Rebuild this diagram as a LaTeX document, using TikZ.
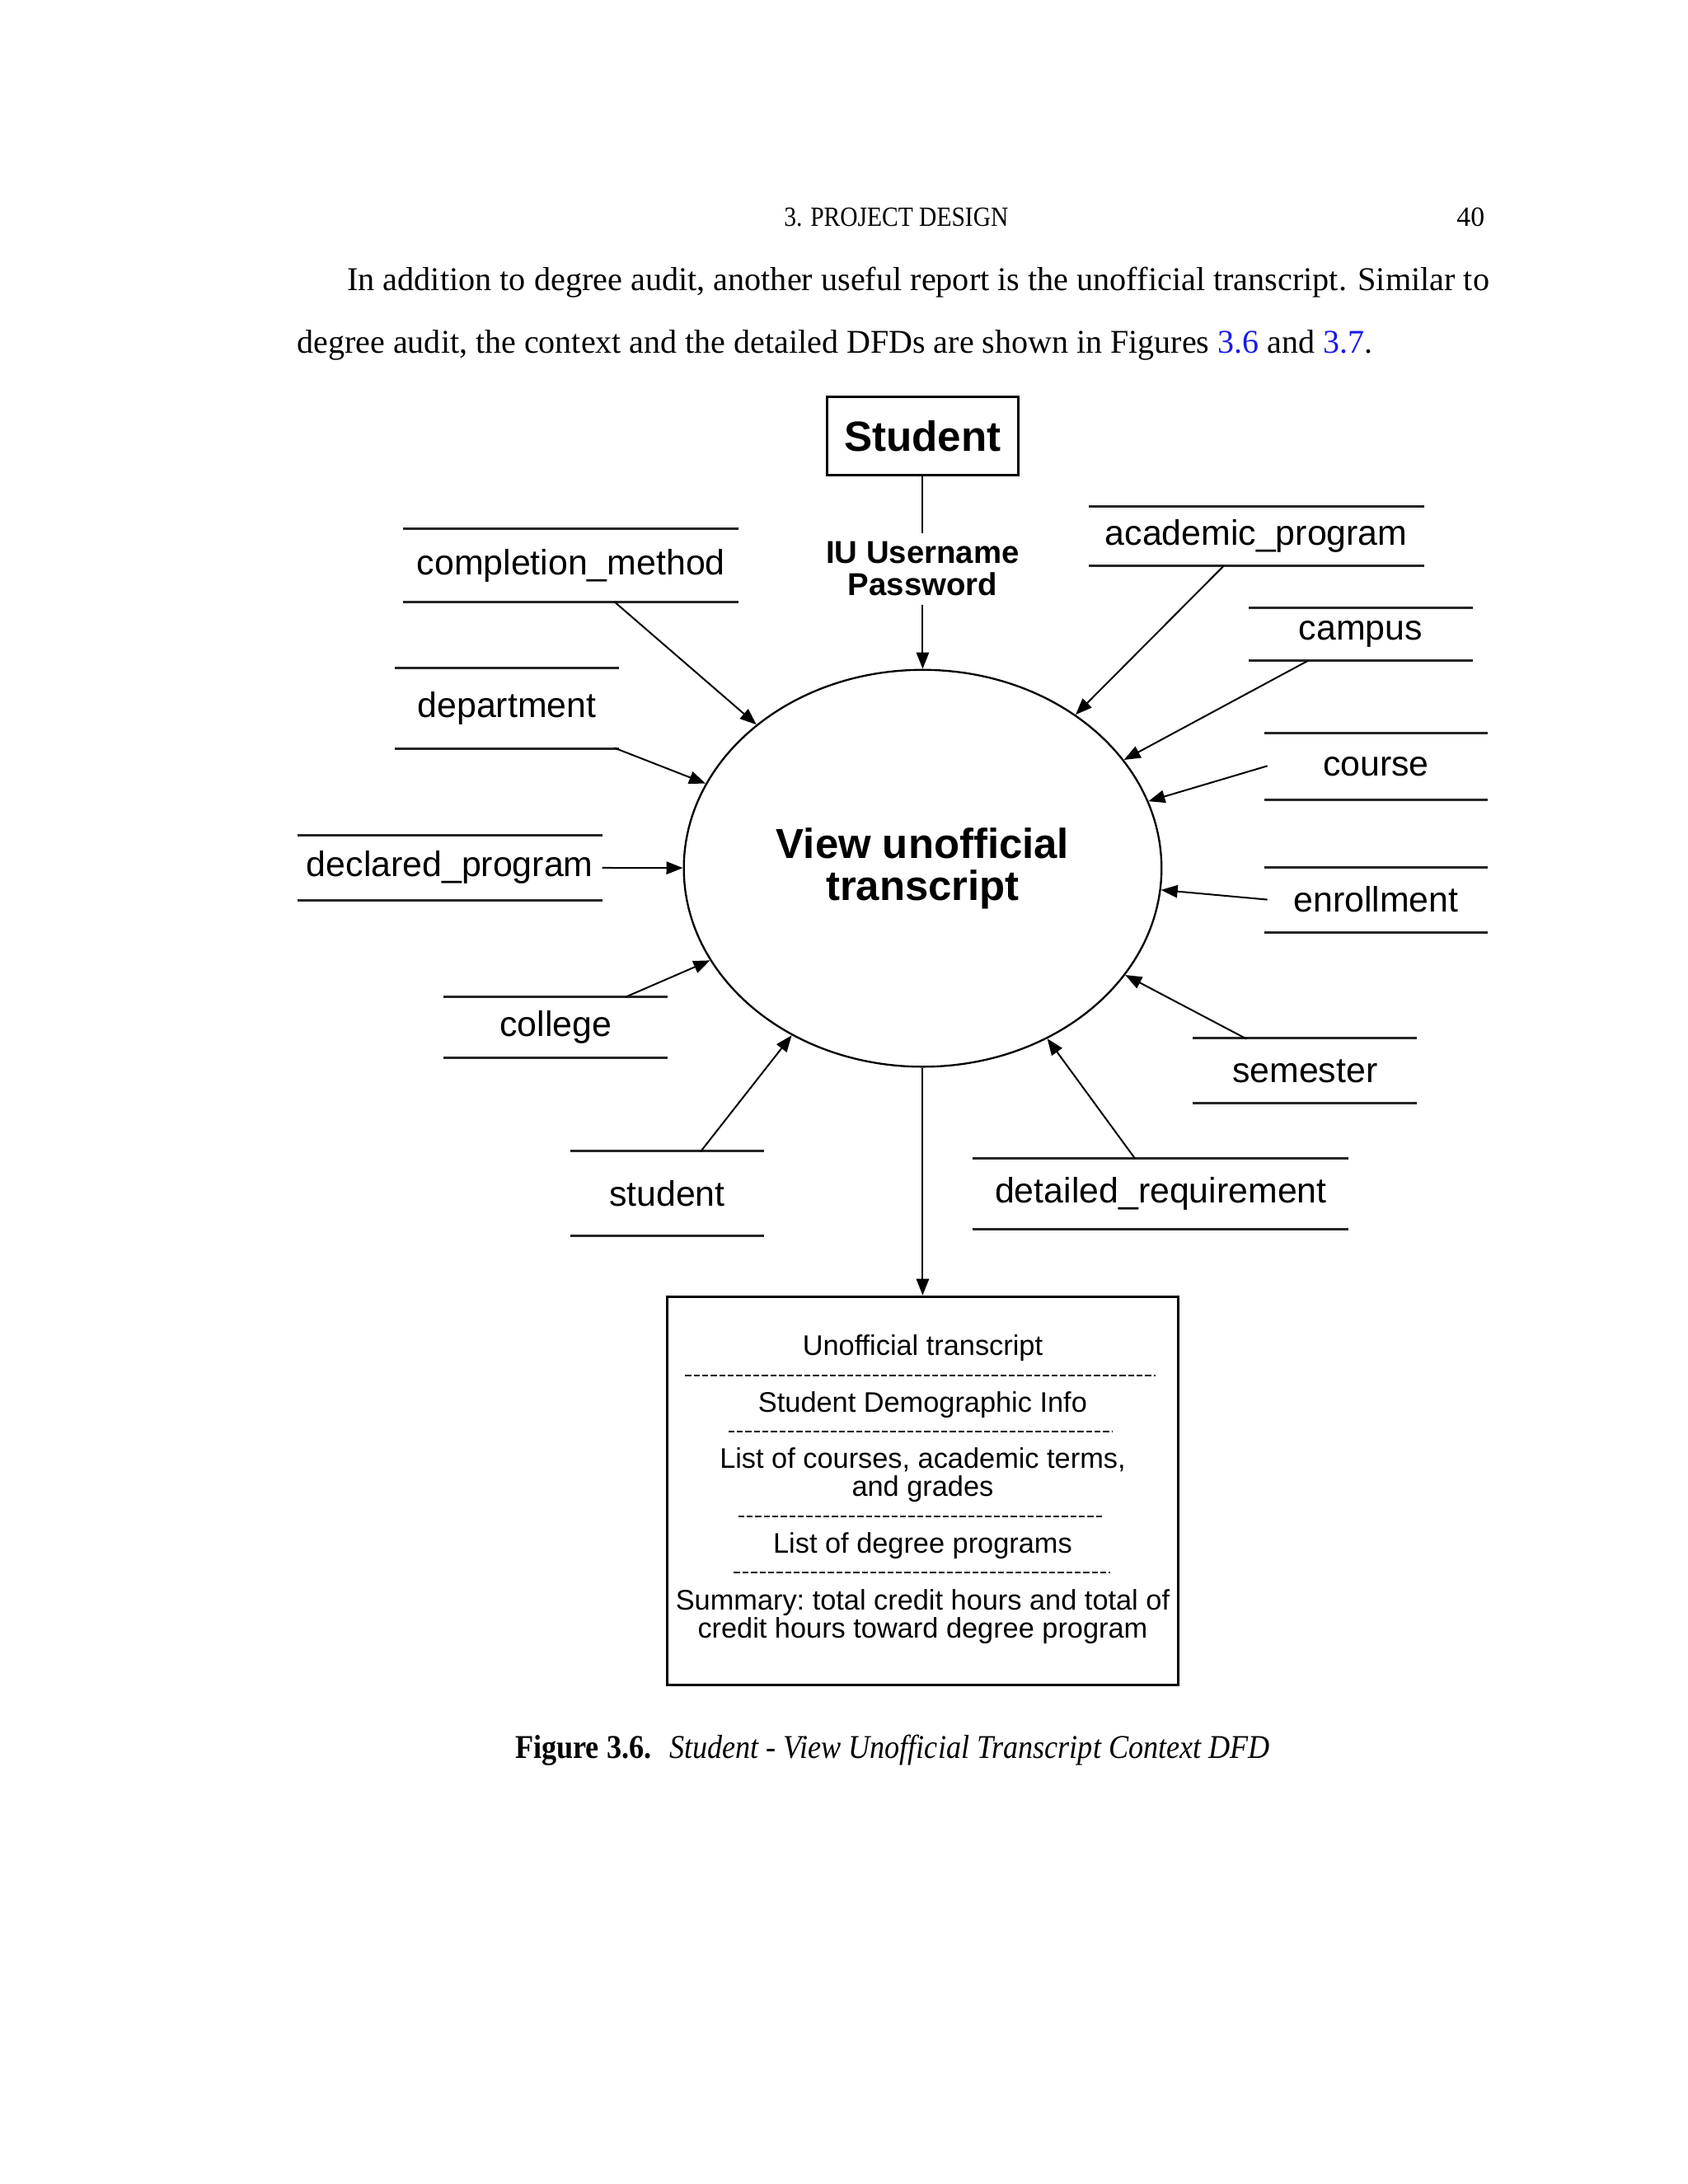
\documentclass[tikz,border=0pt]{standalone}
\usepackage{fontspec}
\setmainfont{Liberation Serif}
\setsansfont{Liberation Sans}
\usepackage{graphicx}
\usetikzlibrary{graphs}
\usetikzlibrary{calc}
\usetikzlibrary{arrows.meta}
\usetikzlibrary{shapes.geometric}
\newlength\pxlen
\setlength\pxlen{0.50684pt}
\definecolor{linkblue}{RGB}{25,25,235}
\tikzset{
  serif/.style= {inner sep=0, font=\fontsize{12.1}{14}\selectfont},
  headfont/.style= {inner sep=0, font=\fontsize{10.1}{12}\selectfont},
  entity/.style= {draw, line width=1pt, minimum width=137*\pxlen, minimum height=56*\pxlen,
    font=\sffamily\bfseries\fontsize{15.35}{16}\selectfont},
  login/.style= {align=center, inner sep=3pt, font=\sffamily\bfseries\fontsize{11.5}{11.6}\selectfont},
  process/.style= {draw, ellipse, line width=0.7pt, inner sep=0, align=center,
    minimum width=343*\pxlen, minimum height=285*\pxlen,
    font=\sffamily\bfseries\fontsize{15.25}{15.2}\selectfont},
  report/.style= {draw, line width=0.9pt, minimum width=367*\pxlen, minimum height=279*\pxlen},
  boxtext/.style= {align=center, inner sep=0, font=\sffamily\fontsize{10.3}{10.1}\selectfont\frenchspacing},
  rule/.style= {dash pattern=on 2.2pt off 0.9pt, line width=0.6pt},
  storeline/.style= {line width=0.9pt, black!85},
  store/.style 2 args= {inner sep=0, minimum width=#1*\pxlen, minimum height=#2*\pxlen,
    font=\sffamily\fontsize{12.85}{13}\selectfont,
    append after command={(\tikzlastnode.north west) edge[storeline] (\tikzlastnode.north east)
                          (\tikzlastnode.south west) edge[storeline] (\tikzlastnode.south east)}},
}
\begin{document}
\begin{tikzpicture}[x=0.50684pt, y=-0.50684pt, >={Triangle[length=6pt, width=4.6pt]}]
  \fill [white] (0,0) rectangle (1212,1568.3);
  \useasboundingbox (0,0) rectangle (1212,1568.3);

  % page text
  \node [headfont] (runhead) at (643.5,156) {\resizebox{161\pxlen}{\height}{3. PROJECT DESIGN}};
  \node [headfont] (pageno) at (1056,156) {\resizebox{20\pxlen}{\height}{40}};
  \node [serif, anchor=west] (line1) at (249,203) {\resizebox{820\pxlen}{\height}{In addition to degree audit, another useful report is the unofficial transcript. Similar to}};
  \node [serif, anchor=west] (line2) at (213,248) {\resizebox{772\pxlen}{\height}{degree audit, the context and the detailed DFDs are shown in Figures \textcolor{linkblue}{3.6} and \textcolor{linkblue}{3.7}.}};
  \node [serif] (caption) at (641,1257) {\resizebox{542\pxlen}{\height}{\textbf{Figure 3.6.}\hspace{0.6em}\textit{Student - View Unofficial Transcript Context DFD}}};

  % entity, process and report
  \node [entity] (stud) at (662.5,313) {Student};
  \node [login] (login) at (662.5,408.5) {IU Username\\Password};
  \node [process] (view) at (662.5,623.5) {View unofficial\\transcript};
  \node [report] (rep) at (662.5,1070.5) {};

  \node [boxtext] (r1) at (662.5,968) {Unofficial transcript};
  \node [boxtext] (r2) at (662.5,1009) {Student Demographic Info};
  \node [boxtext] (r3) at (662.5,1059) {List of courses, academic terms,\\and grades};
  \node [boxtext] (r4) at (662.5,1110) {List of degree programs};
  \node [boxtext] (r5) at (662.5,1161) {Summary: total credit hours and total of\\credit hours toward degree program};
  \draw [rule] (492,988) -- (830,988);
  \draw [rule] (523,1028) -- (799,1028);
  \draw [rule] (530,1089) -- (793,1089);
  \draw [rule] (527,1129) -- (797,1129);

  % data stores
  \node [store={240}{52}] (compl) at (410,406) {completion\_method};
  \node [store={160}{57}] (dept) at (364,508.5) {department};
  \node [store={218}{46}] (decl) at (323,623) {declared\_program};
  \node [store={160}{43}] (coll) at (399,737.5) {college};
  \node [store={138}{60}] (stdt) at (479,857) {student};
  \node [store={240}{42}] (acad) at (902,385) {academic\_program};
  \node [store={160}{37}] (camp) at (977,455.5) {campus};
  \node [store={160}{47}] (crse) at (988,550.5) {course};
  \node [store={160}{46}] (enrl) at (988,646) {enrollment};
  \node [store={160}{46}] (smst) at (937,769) {semester};
  \node [store={269}{50}] (dreq) at (833.5,857) {detailed\_requirement};

  \coordinate (compl-out) at (441,432);
  \coordinate (dept-out) at (441,537);
  \coordinate (coll-out) at (449,716);
  \coordinate (stdt-out) at (503,827);
  \coordinate (acad-out) at (879,406);
  \coordinate (camp-out) at (940,474);
  \coordinate (crse-out) at (910,550);
  \coordinate (enrl-out) at (910,646);
  \coordinate (smst-out) at (895,746);
  \coordinate (dreq-out) at (815,832);

  \graph [edges={line width=0.6pt}] {
    (stud) -- (login) -> (view) -> (rep) ;
    (compl-out) -> (view) ;
    (dept-out) -> (view) ;
    (decl) -> (view) ;
    (coll-out) -> (view) ;
    (stdt-out) -> (view) ;
    (acad-out) -> (view) ;
    (camp-out) -> (view) ;
    (crse-out) -> (view) ;
    (enrl-out) -> (view) ;
    (smst-out) -> (view) ;
    (dreq-out) -> (view) ;
  } ;
\end{tikzpicture}
\end{document}
